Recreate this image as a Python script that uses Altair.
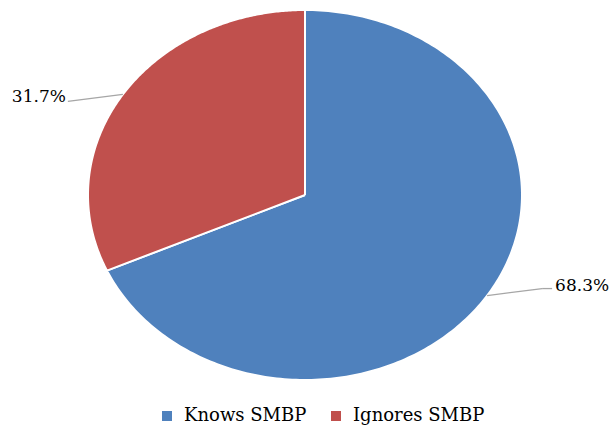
import altair as alt
import pandas as pd

categories = ["Knows SMBP", "Ignores SMBP"]
values = [68.3, 31.7]
labels = ["68.3%", "31.7%"]
colors = ["#4F81BD", "#C0504D"]

FONT = "DejaVu Serif"

N = 240
total = sum(values)
rows = []
lab_rows = []
cum = 0.0
for cat, v, lab in zip(categories, values, labels):
    s = cum / total
    e = (cum + v) / total
    cum += v
    for k in range(-1, N + 2):
        rows.append({"category": cat, "start": s, "end": e, "k": k})
    lab_rows.append({"category": cat, "start": s, "end": e, "label": lab})

pie_df = pd.DataFrame(rows)
lab_df = pd.DataFrame(lab_rows)

xs = alt.Scale(domain=[-1, 1], nice=False, zero=False)
ys = alt.Scale(domain=[-1, 1], nice=False, zero=False)

pie = (
    alt.Chart(pie_df)
    .transform_calculate(
        ang=f"2*PI*(datum.start + (datum.end - datum.start) * datum.k / {N})",
        inside=f"datum.k >= 0 && datum.k <= {N}",
    )
    .transform_calculate(
        px="datum.inside ? sin(datum.ang) : 0",
        py="datum.inside ? cos(datum.ang) : 0",
    )
    .mark_line(strokeWidth=2, interpolate="linear")
    .encode(
        x=alt.X("px:Q", scale=xs, axis=None),
        y=alt.Y("py:Q", scale=ys, axis=None),
        order=alt.Order("k:Q"),
        fill=alt.Fill(
            "category:N",
            scale=alt.Scale(domain=categories, range=colors),
            sort=categories,
            legend=alt.Legend(
                title=None,
                orient="none",
                legendX=70,
                legendY=397,
                direction="horizontal",
                symbolType="square",
                symbolSize=100,
                symbolStrokeWidth=0,
                labelFont=FONT,
                labelFontSize=18,
                labelColor="#000000",
                labelOffset=8,
                columnPadding=20,
                padding=0,
            ),
        ),
        stroke=alt.value("white"),
    )
)

base_lab = alt.Chart(lab_df).transform_calculate(
    mid="2*PI*(datum.start + datum.end)/2",
).transform_calculate(
    mx="sin(datum.mid)",
    my="cos(datum.mid)",
).transform_calculate(
    sgn="datum.mx > 0 ? 1 : -1",
).transform_calculate(
    lx="datum.mx + datum.sgn * 0.2535",
    ly="datum.my + datum.sgn * 0.038",
).transform_calculate(
    lx2="datum.lx + (datum.sgn > 0 ? 0.046 : 0)",
)

lead1 = base_lab.mark_rule(color="#A6A6A6", strokeWidth=1.3).encode(
    x=alt.X("mx:Q", scale=xs), y=alt.Y("my:Q", scale=ys),
    x2="lx:Q", y2="ly:Q",
)
lead2 = base_lab.mark_rule(color="#A6A6A6", strokeWidth=1.3).encode(
    x=alt.X("lx:Q", scale=xs), y=alt.Y("ly:Q", scale=ys),
    x2="lx2:Q", y2="ly:Q",
)

text_right = base_lab.transform_filter("datum.sgn > 0").mark_text(
    align="left", baseline="middle", dx=3, dy=-3,
    font=FONT, fontSize=17, color="#000000",
).encode(x=alt.X("lx2:Q", scale=xs), y=alt.Y("ly:Q", scale=ys), text="label:N")

text_left = base_lab.transform_filter("datum.sgn < 0").mark_text(
    align="right", baseline="middle", dx=-2, dy=-4,
    font=FONT, fontSize=17, color="#000000",
).encode(x=alt.X("lx:Q", scale=xs), y=alt.Y("ly:Q", scale=ys), text="label:N")

chart = (
    alt.layer(pie, lead1, lead2, text_right, text_left)
    .properties(
        width=434,
        height=370,
        autosize=alt.AutoSizeParams(type="none"),
        padding={"left": 88, "top": 10, "right": 88, "bottom": 48},
        background="white",
    )
    .configure_view(stroke=None)
)

chart.save("out.html", embed_options={"renderer": "svg", "actions": False})
